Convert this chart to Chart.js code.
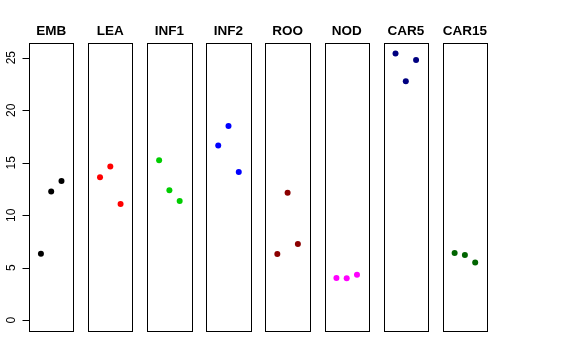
<!DOCTYPE html>
<html><head><meta charset="utf-8">
<script src="https://cdn.jsdelivr.net/npm/chart.js@4/dist/chart.umd.min.js"></script>
<style>
html,body{margin:0;padding:0;background:#fff}
#wrap{position:relative;width:576px;height:360px;background:#fff}
#wrap canvas{position:absolute;left:0;top:0}
</style>
</head><body><div id="wrap"></div>
<script>
// ---- data ----
const categories = ["EMB", "LEA", "INF1", "INF2", "ROO", "NOD", "CAR5", "CAR15"];
const replicates = [1, 2, 3];
const EMB   = [6.34, 12.25, 13.27];
const LEA   = [13.62, 14.63, 11.08];
const INF1  = [15.24, 12.38, 11.36];
const INF2  = [16.63, 18.50, 14.12];
const ROO   = [6.31, 12.15, 7.27];
const NOD   = [4.03, 4.00, 4.34];
const CAR5  = [25.39, 22.76, 24.79];
const CAR15 = [6.41, 6.22, 5.49];
const yTicks = [0, 5, 10, 15, 20, 25];
const seriesValues = [EMB, LEA, INF1, INF2, ROO, NOD, CAR5, CAR15];
const colors = ["#000000", "#FF0000", "#00CD00", "#0000FF", "#8B0000", "#FF00FF", "#000080", "#006400"];

// ---- layout ----
const W = 576, H = 360;
const firstLeft = 29, step = 59.1, panelW = 44.4;
const plotTop = 43.3, plotBottom = 331;
const yMin = -1.02, yMax = 26.37;
const xMin = -0.16, xMax = 4.16;

const framePlugin = {
  id: 'frame',
  afterDraw(chart, args, opts) {
    const {ctx, chartArea: a} = chart;
    ctx.save();
    ctx.strokeStyle = '#000';
    ctx.lineWidth = 1;
    ctx.strokeRect(Math.round(a.left) + 0.5, Math.round(a.top) + 0.5,
                   Math.round(a.right) - Math.round(a.left), Math.round(a.bottom) - Math.round(a.top));
    ctx.fillStyle = '#000';
    ctx.font = 'bold 13.5px "Liberation Sans", Arial, sans-serif';
    ctx.textAlign = 'center';
    ctx.textBaseline = 'alphabetic';
    ctx.fillText(opts.label, (a.left + a.right) / 2, 34.5);
    ctx.restore();
  }
};

const yAxisPlugin = {
  id: 'yaxisR',
  afterDraw(chart) {
    const {ctx, chartArea: a, scales} = chart;
    const ys = scales.y;
    ctx.save();
    ctx.strokeStyle = '#000';
    ctx.lineWidth = 1;
    ctx.fillStyle = '#000';
    ctx.font = '12px "Liberation Sans", Arial, sans-serif';
    ctx.textAlign = 'center';
    ctx.textBaseline = 'middle';
    const x0 = Math.round(a.left) + 0.5;
    yTicks.forEach(v => {
      const py = Math.round(ys.getPixelForValue(v)) + 0.5;
      ctx.beginPath();
      ctx.moveTo(x0 - 7, py);
      ctx.lineTo(x0, py);
      ctx.stroke();
      ctx.save();
      ctx.translate(11.5, ys.getPixelForValue(v));
      ctx.rotate(-Math.PI / 2);
      ctx.fillText(String(v), 0, 0);
      ctx.restore();
    });
    ctx.beginPath();
    ctx.moveTo(x0, Math.round(ys.getPixelForValue(yTicks[0])) + 0.5);
    ctx.lineTo(x0, Math.round(ys.getPixelForValue(yTicks[yTicks.length - 1])) + 0.5);
    ctx.stroke();
    ctx.restore();
  }
};

const wrap = document.getElementById('wrap');
categories.forEach((cat, i) => {
  const cv = document.createElement('canvas');
  cv.width = W; cv.height = H;
  cv.style.width = W + 'px'; cv.style.height = H + 'px';
  wrap.appendChild(cv);
  const left = firstLeft + step * i;
  const vals = seriesValues[i];
  const plugins = [framePlugin];
  if (i === 0) plugins.push(yAxisPlugin);
  new Chart(cv, {
    type: 'scatter',
    data: {
      datasets: [{
        data: replicates.map((r, j) => ({x: r, y: vals[j]})),
        backgroundColor: colors[i],
        borderColor: colors[i],
        pointRadius: 3,
        pointBorderWidth: 0,
        pointHoverRadius: 3
      }]
    },
    options: {
      responsive: false,
      animation: false,
      devicePixelRatio: 1,
      events: [],
      layout: {padding: {left: left, right: W - left - panelW, top: plotTop, bottom: H - plotBottom}},
      scales: {
        x: {type: 'linear', display: false, min: xMin, max: xMax},
        y: {type: 'linear', display: false, min: yMin, max: yMax}
      },
      plugins: {
        legend: {display: false},
        tooltip: {enabled: false},
        title: {display: false},
        frame: {label: cat}
      }
    },
    plugins: plugins
  });
});
</script>
</body></html>
